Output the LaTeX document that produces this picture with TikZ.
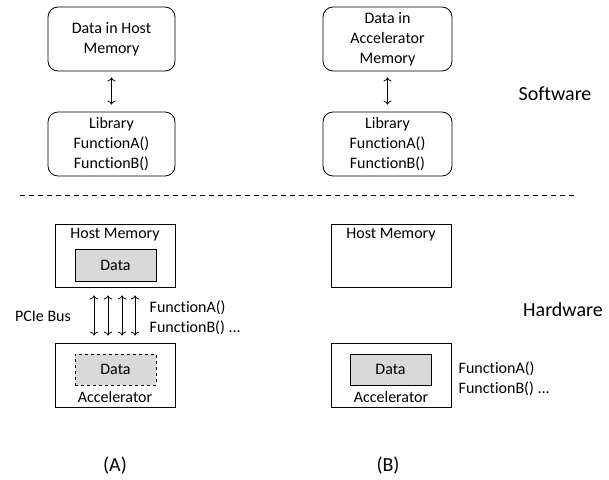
\documentclass[tikz,border=0pt]{standalone}
\usepackage{fontspec}
\setmainfont{Carlito}[Ligatures=NoCommon]
\usepackage{tikz}
\usetikzlibrary{arrows.meta}

\begin{document}
\begin{tikzpicture}[x=1pt, y=-1pt, >={To[length=4pt,width=8pt]}, line width=0.8pt, font=\fontsize{16}{20}\selectfont,
	swbox/.style={draw, rounded corners=10pt, align=center, minimum width=127pt, minimum height=64pt, inner sep=2pt},
	hwbox/.style={draw, minimum width=120pt, minimum height=63pt},
	databox/.style={draw, fill=black!15, minimum width=81pt, minimum height=32pt},
	bigtext/.style={font=\fontsize{20}{24}\selectfont},
	link/.style={<->, shorten >=7pt, shorten <=6pt}]
	\useasboundingbox (0,0) rectangle (609,479);

	% Software side {host, accelerator}
	\node [swbox]	(hostsw)	at (111.5,39)	{Data in Host\\Memory};
	\node [swbox]	(libA)		at (111.5,144)	{Library\\FunctionA()\\FunctionB()};
	\node [swbox, minimum width=129pt]	(accsw)	at (387.5,39)	{Data in\\Accelerator\\Memory};
	\node [swbox, minimum width=129pt]	(libB)	at (387.5,144)	{Library\\FunctionA()\\FunctionB()};
	\node [bigtext]	(software)	at (555,94)		{Software};

	% Separator
	\coordinate (sepL) at (20,195);
	\coordinate (sepR) at (574,195);

	% Hardware side (A)
	\node [hwbox]		(hostA)	at (115,255.5)	{};
	\node				(hostAlbl)	at (115,235)	{Host Memory};
	\node [databox]		(dataA)	at (115.5,265)	{Data};
	\node [hwbox, minimum height=64pt]	(accA)	at (115,375)	{};
	\node [databox, dashed, minimum height=31pt]	(dataAacc)	at (115.5,369.5)	{Data};
	\node				(accAlbl)	at (115,396.5)	{Accelerator};
	\node				(bus)	at (43,316)		{PCIe Bus};
	\node [anchor=west, align=left]	(funcA)	at (146,317.5)	{FunctionA()\\FunctionB() ...};
	\node [bigtext]		(labelA)	at (115,466)	{(A)};

	% Hardware side (B)
	\node [hwbox]		(hostB)	at (391,255.5)	{};
	\node				(hostBlbl)	at (391,235)	{Host Memory};
	\node [hwbox, minimum height=64pt]	(accB)	at (391,375)	{};
	\node [databox, minimum height=31pt]	(dataB)	at (390.5,369.5)	{Data};
	\node				(accBlbl)	at (391,396.5)	{Accelerator};
	\node [anchor=west, align=left]	(funcB)	at (455,378.5)	{FunctionA()\\FunctionB() ...};
	\node [bigtext]		(hardware)	at (563,310)	{Hardware};
	\node [bigtext]		(labelB)	at (388,466)	{(B)};

	% Paths
	\path [link]	(hostsw) edge (libA);
	\path [link]	(accsw) edge (libB);
	\draw [dashed, dash pattern=on 5pt off 4pt]	(sepL) -- (sepR);
	\foreach \dx in {-21,-7,7,20}
		\draw [<->, shorten >=7pt, shorten <=8pt]	([xshift=\dx pt]hostA.south) -- ([xshift=\dx pt]accA.north);

\end{tikzpicture}
\end{document}
